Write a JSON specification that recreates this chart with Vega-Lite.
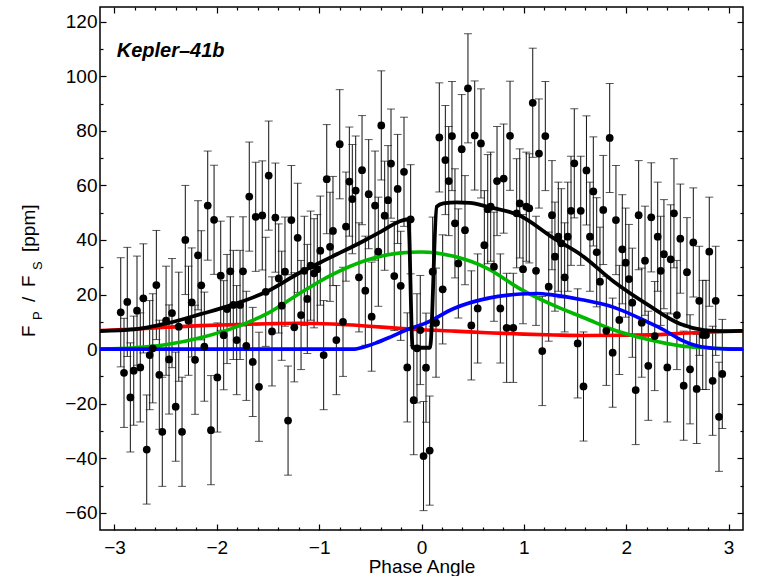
{
  "$schema": "https://vega.github.io/schema/vega-lite/v6.json",
  "width": 643,
  "height": 523,
  "autosize": "none",
  "padding": {"left": 100, "top": 7, "right": 20, "bottom": 46},
  "background": "white",
  "config": {
    "font": "Liberation Sans",
    "view": {"stroke": "black", "strokeWidth": 1.5},
    "axis": {"grid": false, "domain": false, "tickColor": "black", "tickWidth": 1.2, "labelColor": "black", "labelFont": "Liberation Sans", "titleFont": "Liberation Sans"}
  },
  "datasets": {
    "obs": [
      {"p":-2.939,"f":13.5,"e":20},{"p":-2.907,"f":-8.7,"e":20},{"p":-2.875,"f":17.3,"e":20},{"p":-2.845,"f":-17.7,"e":20},
      {"p":-2.812,"f":-7.9,"e":20},{"p":-2.780,"f":14.1,"e":20},{"p":-2.748,"f":-6.7,"e":20},{"p":-2.718,"f":18.6,"e":20},
      {"p":-2.685,"f":-36.8,"e":20},{"p":-2.656,"f":-2.2,"e":20},{"p":-2.626,"f":0.3,"e":20},{"p":-2.591,"f":23.5,"e":20},
      {"p":-2.562,"f":-9.4,"e":20},{"p":-2.533,"f":-30.3,"e":20},{"p":-2.496,"f":10.4,"e":20},{"p":-2.467,"f":-3.8,"e":20},
      {"p":-2.438,"f":13.2,"e":20},{"p":-2.402,"f":-21.1,"e":20},{"p":-2.372,"f":8.2,"e":20},{"p":-2.340,"f":-30.3,"e":20},
      {"p":-2.308,"f":40.0,"e":20},{"p":-2.277,"f":10.4,"e":20},{"p":-2.245,"f":17.1,"e":20},{"p":-2.213,"f":-3.9,"e":20},
      {"p":-2.184,"f":34.4,"e":20},{"p":-2.152,"f":23.4,"e":20},{"p":-2.122,"f":0.9,"e":20},{"p":-2.089,"f":52.6,"e":20},
      {"p":-2.057,"f":-29.7,"e":20},{"p":-2.027,"f":47.4,"e":20},{"p":-1.995,"f":-10.4,"e":20},{"p":-1.962,"f":26.9,"e":20},
      {"p":-1.933,"f":5.1,"e":20},{"p":-1.900,"f":14.7,"e":20},{"p":-1.868,"f":28.5,"e":20},{"p":-1.839,"f":16.2,"e":20},
      {"p":-1.806,"f":3.3,"e":20},{"p":-1.773,"f":16.2,"e":20},{"p":-1.744,"f":28.5,"e":20},{"p":-1.712,"f":1.2,"e":20},
      {"p":-1.683,"f":55.9,"e":20},{"p":-1.649,"f":-4.7,"e":20},{"p":-1.620,"f":48.5,"e":20},{"p":-1.588,"f":-13.8,"e":20},
      {"p":-1.556,"f":49.0,"e":20},{"p":-1.522,"f":21.0,"e":20},{"p":-1.493,"f":63.6,"e":20},{"p":-1.461,"f":6.5,"e":20},
      {"p":-1.428,"f":48.2,"e":20},{"p":-1.395,"f":25.9,"e":20},{"p":-1.366,"f":15.9,"e":20},{"p":-1.334,"f":28.4,"e":20},
      {"p":-1.304,"f":-26.2,"e":20},{"p":-1.272,"f":47.3,"e":20},{"p":-1.243,"f":8.0,"e":20},{"p":-1.210,"f":40.8,"e":20},
      {"p":-1.177,"f":12.5,"e":20},{"p":-1.145,"f":28.7,"e":20},{"p":-1.116,"f":18.4,"e":20},{"p":-1.083,"f":30.6,"e":20},
      {"p":-1.050,"f":27.8,"e":20},{"p":-1.018,"f":29.3,"e":20},{"p":-0.989,"f":36.1,"e":20},{"p":-0.956,"f":-2.2,"e":20},
      {"p":-0.926,"f":62.3,"e":20},{"p":-0.894,"f":37.5,"e":20},{"p":-0.865,"f":43.3,"e":20},{"p":-0.832,"f":3.3,"e":20},
      {"p":-0.799,"f":75.1,"e":20},{"p":-0.767,"f":10.0,"e":20},{"p":-0.738,"f":44.9,"e":20},{"p":-0.705,"f":61.4,"e":20},
      {"p":-0.676,"f":55.0,"e":20},{"p":-0.643,"f":58.1,"e":20},{"p":-0.611,"f":26.3,"e":20},{"p":-0.581,"f":65.6,"e":20},
      {"p":-0.549,"f":21.4,"e":20},{"p":-0.516,"f":56.8,"e":20},{"p":-0.487,"f":11.9,"e":20},{"p":-0.454,"f":52.6,"e":20},
      {"p":-0.422,"f":35.7,"e":20},{"p":-0.393,"f":82.0,"e":20},{"p":-0.360,"f":48.9,"e":20},{"p":-0.327,"f":54.6,"e":20},
      {"p":-0.298,"f":68.0,"e":20},{"p":-0.266,"f":26.8,"e":20},{"p":-0.233,"f":58.7,"e":20},{"p":-0.203,"f":23.2,"e":20},
      {"p":-0.171,"f":65.0,"e":20},{"p":-0.139,"f":-6.7,"e":20},{"p":-0.106,"f":47.6,"e":20},{"p":-0.076,"f":-18.7,"e":20},
      {"p":-0.044,"f":0.3,"e":20},{"p":-0.012,"f":7.0,"e":20},{"p":0.020,"f":-39.2,"e":20},{"p":0.044,"f":-6.8,"e":20},
      {"p":0.080,"f":-37.2,"e":20},{"p":0.109,"f":28.4,"e":20},{"p":0.142,"f":9.7,"e":20},{"p":0.174,"f":77.6,"e":20},
      {"p":0.207,"f":21.9,"e":20},{"p":0.233,"f":69.3,"e":20},{"p":0.266,"f":61.6,"e":20},{"p":0.298,"f":78.1,"e":20},
      {"p":0.327,"f":46.1,"e":20},{"p":0.360,"f":31.4,"e":20},{"p":0.393,"f":73.3,"e":20},{"p":0.425,"f":43.6,"e":20},
      {"p":0.454,"f":95.6,"e":20},{"p":0.487,"f":8.7,"e":20},{"p":0.520,"f":78.3,"e":20},{"p":0.549,"f":14.9,"e":20},
      {"p":0.581,"f":75.4,"e":20},{"p":0.614,"f":38.1,"e":20},{"p":0.647,"f":51.3,"e":20},{"p":0.676,"f":52.2,"e":20},
      {"p":0.708,"f":30.2,"e":20},{"p":0.738,"f":61.6,"e":20},{"p":0.770,"f":14.9,"e":20},{"p":0.803,"f":62.5,"e":20},
      {"p":0.832,"f":7.8,"e":20},{"p":0.865,"f":78.2,"e":20},{"p":0.897,"f":7.8,"e":20},{"p":0.930,"f":49.8,"e":20},
      {"p":0.960,"f":53.4,"e":20},{"p":0.992,"f":29.3,"e":20},{"p":1.024,"f":52.2,"e":20},{"p":1.053,"f":51.6,"e":20},
      {"p":1.087,"f":90.3,"e":20},{"p":1.119,"f":28.7,"e":20},{"p":1.148,"f":71.7,"e":20},{"p":1.180,"f":-0.7,"e":20},
      {"p":1.210,"f":78.1,"e":20},{"p":1.243,"f":22.9,"e":20},{"p":1.275,"f":49.1,"e":20},{"p":1.304,"f":33.9,"e":20},
      {"p":1.337,"f":41.2,"e":20},{"p":1.366,"f":38.8,"e":20},{"p":1.399,"f":26.3,"e":20},{"p":1.429,"f":41.2,"e":20},
      {"p":1.461,"f":50.7,"e":20},{"p":1.493,"f":68.1,"e":20},{"p":1.526,"f":2.1,"e":20},{"p":1.556,"f":50.7,"e":20},
      {"p":1.583,"f":-13.7,"e":20},{"p":1.612,"f":65.5,"e":20},{"p":1.646,"f":41.2,"e":20},{"p":1.679,"f":57.8,"e":20},
      {"p":1.712,"f":35.5,"e":20},{"p":1.744,"f":24.7,"e":20},{"p":1.776,"f":51.0,"e":20},{"p":1.806,"f":6.7,"e":20},
      {"p":1.839,"f":77.4,"e":20},{"p":1.868,"f":-1.3,"e":20},{"p":1.900,"f":47.3,"e":20},{"p":1.933,"f":10.7,"e":20},
      {"p":1.962,"f":36.6,"e":20},{"p":1.995,"f":31.7,"e":20},{"p":2.027,"f":25.7,"e":20},{"p":2.060,"f":17.0,"e":20},
      {"p":2.093,"f":-15.0,"e":20},{"p":2.122,"f":49.1,"e":20},{"p":2.152,"f":9.7,"e":20},{"p":2.184,"f":32.4,"e":20},
      {"p":2.216,"f":-6.1,"e":20},{"p":2.245,"f":48.3,"e":20},{"p":2.279,"f":4.8,"e":20},{"p":2.308,"f":41.2,"e":20},
      {"p":2.337,"f":28.7,"e":20},{"p":2.369,"f":34.8,"e":20},{"p":2.402,"f":-6.7,"e":20},{"p":2.435,"f":32.9,"e":20},
      {"p":2.467,"f":49.8,"e":20},{"p":2.496,"f":12.5,"e":20},{"p":2.529,"f":40.5,"e":20},{"p":2.562,"f":-13.4,"e":20},
      {"p":2.594,"f":28.2,"e":20},{"p":2.624,"f":-7.4,"e":20},{"p":2.656,"f":39.1,"e":20},{"p":2.689,"f":-14.6,"e":20},
      {"p":2.714,"f":17.7,"e":20},{"p":2.748,"f":5.2,"e":20},{"p":2.780,"f":5.2,"e":20},{"p":2.812,"f":35.7,"e":20},
      {"p":2.845,"f":-11.6,"e":20},{"p":2.875,"f":17.7,"e":20},{"p":2.907,"f":-24.8,"e":20},{"p":2.939,"f":-9.1,"e":20}
    ],
    "red": [
      {"p":-3.1416,"v":6.8},{"p":-2.8,"v":7.4},{"p":-2.5,"v":8.0},{"p":-2.16,"v":8.6},{"p":-1.8,"v":9.0},{"p":-1.5,"v":9.3},
      {"p":-1.2,"v":9.5},{"p":-0.87,"v":9.2},{"p":-0.55,"v":8.5},{"p":-0.22,"v":7.6},{"p":0,"v":7.1},{"p":0.32,"v":6.6},
      {"p":0.64,"v":6.0},{"p":1.0,"v":5.5},{"p":1.3,"v":5.2},{"p":1.6,"v":5.0},{"p":2.0,"v":5.1},{"p":2.3,"v":5.3},
      {"p":2.55,"v":5.8},{"p":2.85,"v":6.3},{"p":3.1416,"v":6.7}
    ],
    "green": [
      {"p":-3.1416,"v":0},{"p":-2.81,"v":0.5},{"p":-2.49,"v":1.7},{"p":-2.16,"v":4.2},{"p":-1.835,"v":7.8},{"p":-1.5,"v":13.2},
      {"p":-1.2,"v":20.2},{"p":-0.873,"v":27.3},{"p":-0.547,"v":32.5},{"p":-0.222,"v":35.2},{"p":0,"v":35.6},{"p":0.316,"v":34.0},
      {"p":0.642,"v":29.6},{"p":0.968,"v":22.0},{"p":1.293,"v":16.0},{"p":1.6,"v":11.3},{"p":1.88,"v":7.0},{"p":2.206,"v":3.6},
      {"p":2.53,"v":1.2},{"p":2.76,"v":0.5},{"p":3.1416,"v":0}
    ],
    "blue": [
      {"p":-3.1416,"v":0},{"p":-0.65,"v":0},{"p":-0.58,"v":0.6},{"p":-0.45,"v":2.2},{"p":-0.3,"v":4.5},{"p":-0.15,"v":7.0},
      {"p":0.04,"v":9.5},{"p":0.316,"v":14.9},{"p":0.642,"v":18.6},{"p":0.968,"v":20.2},{"p":1.13,"v":20.4},{"p":1.293,"v":19.8},
      {"p":1.554,"v":18.2},{"p":1.88,"v":15.3},{"p":2.206,"v":10.0},{"p":2.37,"v":7.0},{"p":2.53,"v":3.5},{"p":2.69,"v":1.2},
      {"p":2.85,"v":0.3},{"p":3.0,"v":0},{"p":3.1416,"v":0}
    ],
    "black": [
      {"p":-3.1416,"v":6.6},{"p":-2.81,"v":7.2},{"p":-2.49,"v":9.4},{"p":-2.16,"v":12.8},{"p":-1.835,"v":16.4},{"p":-1.5,"v":21.3},
      {"p":-1.2,"v":27.8},{"p":-0.873,"v":33.9},{"p":-0.547,"v":40.0},{"p":-0.4,"v":43.0},{"p":-0.222,"v":46.7},{"p":-0.129,"v":47.6},
      {"p":-0.086,"v":0.5},{"p":0.083,"v":0.5},{"p":0.149,"v":52.2},{"p":0.213,"v":53.4},{"p":0.35,"v":53.8},{"p":0.474,"v":53.6},
      {"p":0.642,"v":52.2},{"p":0.968,"v":48.8},{"p":1.293,"v":40.6},{"p":1.554,"v":34.7},{"p":1.88,"v":24.7},{"p":2.206,"v":16.4},
      {"p":2.53,"v":9.2},{"p":2.76,"v":7.0},{"p":2.95,"v":6.6},{"p":3.1416,"v":6.7}
    ]
  },
  "resolve": {"axis": {"x": "independent", "y": "independent"}},
  "layer": [
    {
      "data": {"name": "obs"},
      "mark": {"type": "errorbar", "ticks": {"size": 8, "color": "#111"}, "color": "#111", "thickness": 1},
      "encoding": {
        "x": {"field": "p", "type": "quantitative", "scale": {"domain": [-3.1416, 3.1416], "nice": false, "zero": false}, "axis": null},
        "y": {"field": "f", "type": "quantitative", "scale": {"domain": [-66.3, 125.4], "nice": false, "zero": false}, "axis": null},
        "yError": {"field": "e"}
      }
    },
    {
      "data": {"name": "red"},
      "mark": {"type": "line", "color": "#ff0000", "strokeWidth": 3.6, "interpolate": "monotone"},
      "encoding": {
        "x": {"field": "p", "type": "quantitative", "scale": {"domain": [-3.1416, 3.1416], "nice": false, "zero": false}, "axis": null},
        "y": {"field": "v", "type": "quantitative", "scale": {"domain": [-66.3, 125.4], "nice": false, "zero": false}, "axis": null}
      }
    },
    {
      "data": {"name": "green"},
      "mark": {"type": "line", "color": "#00b800", "strokeWidth": 3.6, "interpolate": "monotone"},
      "encoding": {
        "x": {"field": "p", "type": "quantitative", "scale": {"domain": [-3.1416, 3.1416], "nice": false, "zero": false}, "axis": null},
        "y": {"field": "v", "type": "quantitative", "scale": {"domain": [-66.3, 125.4], "nice": false, "zero": false}, "axis": null}
      }
    },
    {
      "data": {"name": "blue"},
      "mark": {"type": "line", "color": "#0000ff", "strokeWidth": 3.6, "interpolate": "monotone"},
      "encoding": {
        "x": {"field": "p", "type": "quantitative", "scale": {"domain": [-3.1416, 3.1416], "nice": false, "zero": false}, "axis": null},
        "y": {"field": "v", "type": "quantitative", "scale": {"domain": [-66.3, 125.4], "nice": false, "zero": false}, "axis": null}
      }
    },
    {
      "data": {"name": "black"},
      "mark": {"type": "line", "color": "#000000", "strokeWidth": 3.8, "interpolate": "monotone"},
      "encoding": {
        "x": {"field": "p", "type": "quantitative", "scale": {"domain": [-3.1416, 3.1416], "nice": false, "zero": false},
          "axis": {"orient": "top", "labels": false, "title": null,
            "values": [-3,-2.8,-2.6,-2.4,-2.2,-2,-1.8,-1.6,-1.4,-1.2,-1,-0.8,-0.6,-0.4,-0.2,0,0.2,0.4,0.6,0.8,1,1.2,1.4,1.6,1.8,2,2.2,2.4,2.6,2.8,3],
            "tickSize": {"condition": {"test": "abs(datum.value - round(datum.value)) < 0.01", "value": -6}, "value": -3}}},
        "y": {"field": "v", "type": "quantitative", "scale": {"domain": [-66.3, 125.4], "nice": false, "zero": false},
          "axis": {"orient": "right", "labels": false, "title": null,
            "values": [-60,-50,-40,-30,-20,-10,0,10,20,30,40,50,60,70,80,90,100,110,120],
            "tickSize": {"condition": {"test": "datum.value % 20 == 0", "value": -6}, "value": -3}}}
      }
    },
    {
      "data": {"name": "obs"},
      "mark": {"type": "circle", "color": "black", "opacity": 1, "size": 60},
      "encoding": {
        "x": {"field": "p", "type": "quantitative", "scale": {"domain": [-3.1416, 3.1416], "nice": false, "zero": false},
          "axis": {"orient": "bottom", "title": "Phase Angle", "titleFontSize": 19, "titleFontWeight": "normal", "titleColor": "black", "titlePadding": -3,
            "values": [-3,-2.8,-2.6,-2.4,-2.2,-2,-1.8,-1.6,-1.4,-1.2,-1,-0.8,-0.6,-0.4,-0.2,0,0.2,0.4,0.6,0.8,1,1.2,1.4,1.6,1.8,2,2.2,2.4,2.6,2.8,3],
            "labelExpr": "abs(datum.value - round(datum.value)) < 0.01 ? format(round(datum.value), 'd') : ''",
            "labelFontSize": 19, "labelPadding": 14, "labelOverlap": false, "labelFlush": false,
            "tickSize": {"condition": {"test": "abs(datum.value - round(datum.value)) < 0.01", "value": -6}, "value": -3}}},
        "y": {"field": "f", "type": "quantitative", "scale": {"domain": [-66.3, 125.4], "nice": false, "zero": false},
          "axis": {"orient": "left", "title": null,
            "values": [-60,-50,-40,-30,-20,-10,0,10,20,30,40,50,60,70,80,90,100,110,120],
            "labelExpr": "datum.value % 20 == 0 ? format(datum.value, 'd') : ''",
            "labelFontSize": 19, "labelPadding": 9, "labelOverlap": false, "labelFlush": false,
            "tickSize": {"condition": {"test": "datum.value % 20 == 0", "value": -6}, "value": -3}}}
      }
    },
    {
      "data": {"values": [{}]},
      "mark": {"type": "text", "text": "Kepler–41b", "align": "left", "baseline": "alphabetic", "fontSize": 20, "fontWeight": "bold", "fontStyle": "italic", "font": "Liberation Sans", "color": "black"},
      "encoding": {
        "x": {"datum": -2.978, "type": "quantitative", "scale": {"domain": [-3.1416, 3.1416], "nice": false, "zero": false}, "axis": null},
        "y": {"datum": 107.2, "type": "quantitative", "scale": {"domain": [-66.3, 125.4], "nice": false, "zero": false}, "axis": null}
      }
    },
    {
      "data": {"values": [{}]},
      "mark": {"type": "text", "text": "F", "angle": 270, "align": "left", "baseline": "alphabetic", "fontSize": 19, "color": "black"},
      "encoding": {
        "x": {"datum": -3.772, "type": "quantitative", "scale": {"domain": [-3.1416, 3.1416], "nice": false, "zero": false}, "axis": null},
        "y": {"datum": 4.44, "type": "quantitative", "scale": {"domain": [-66.3, 125.4], "nice": false, "zero": false}, "axis": null}
      }
    },
    {
      "data": {"values": [{}]},
      "mark": {"type": "text", "text": "P", "angle": 270, "align": "left", "baseline": "alphabetic", "fontSize": 13, "color": "black"},
      "encoding": {
        "x": {"datum": -3.711, "type": "quantitative", "scale": {"domain": [-3.1416, 3.1416], "nice": false, "zero": false}, "axis": null},
        "y": {"datum": 10.67, "type": "quantitative", "scale": {"domain": [-66.3, 125.4], "nice": false, "zero": false}, "axis": null}
      }
    },
    {
      "data": {"values": [{}]},
      "mark": {"type": "text", "text": "/", "angle": 270, "align": "left", "baseline": "alphabetic", "fontSize": 19, "color": "black"},
      "encoding": {
        "x": {"datum": -3.772, "type": "quantitative", "scale": {"domain": [-3.1416, 3.1416], "nice": false, "zero": false}, "axis": null},
        "y": {"datum": 17.27, "type": "quantitative", "scale": {"domain": [-66.3, 125.4], "nice": false, "zero": false}, "axis": null}
      }
    },
    {
      "data": {"values": [{}]},
      "mark": {"type": "text", "text": "F", "angle": 270, "align": "left", "baseline": "alphabetic", "fontSize": 19, "color": "black"},
      "encoding": {
        "x": {"datum": -3.772, "type": "quantitative", "scale": {"domain": [-3.1416, 3.1416], "nice": false, "zero": false}, "axis": null},
        "y": {"datum": 22.77, "type": "quantitative", "scale": {"domain": [-66.3, 125.4], "nice": false, "zero": false}, "axis": null}
      }
    },
    {
      "data": {"values": [{}]},
      "mark": {"type": "text", "text": "S", "angle": 270, "align": "left", "baseline": "alphabetic", "fontSize": 13, "color": "black"},
      "encoding": {
        "x": {"datum": -3.711, "type": "quantitative", "scale": {"domain": [-3.1416, 3.1416], "nice": false, "zero": false}, "axis": null},
        "y": {"datum": 29.0, "type": "quantitative", "scale": {"domain": [-66.3, 125.4], "nice": false, "zero": false}, "axis": null}
      }
    },
    {
      "data": {"values": [{}]},
      "mark": {"type": "text", "text": "[ppm]", "angle": 270, "align": "left", "baseline": "alphabetic", "fontSize": 19, "color": "black"},
      "encoding": {
        "x": {"datum": -3.772, "type": "quantitative", "scale": {"domain": [-3.1416, 3.1416], "nice": false, "zero": false}, "axis": null},
        "y": {"datum": 35.6, "type": "quantitative", "scale": {"domain": [-66.3, 125.4], "nice": false, "zero": false}, "axis": null}
      }
    }
  ]
}
